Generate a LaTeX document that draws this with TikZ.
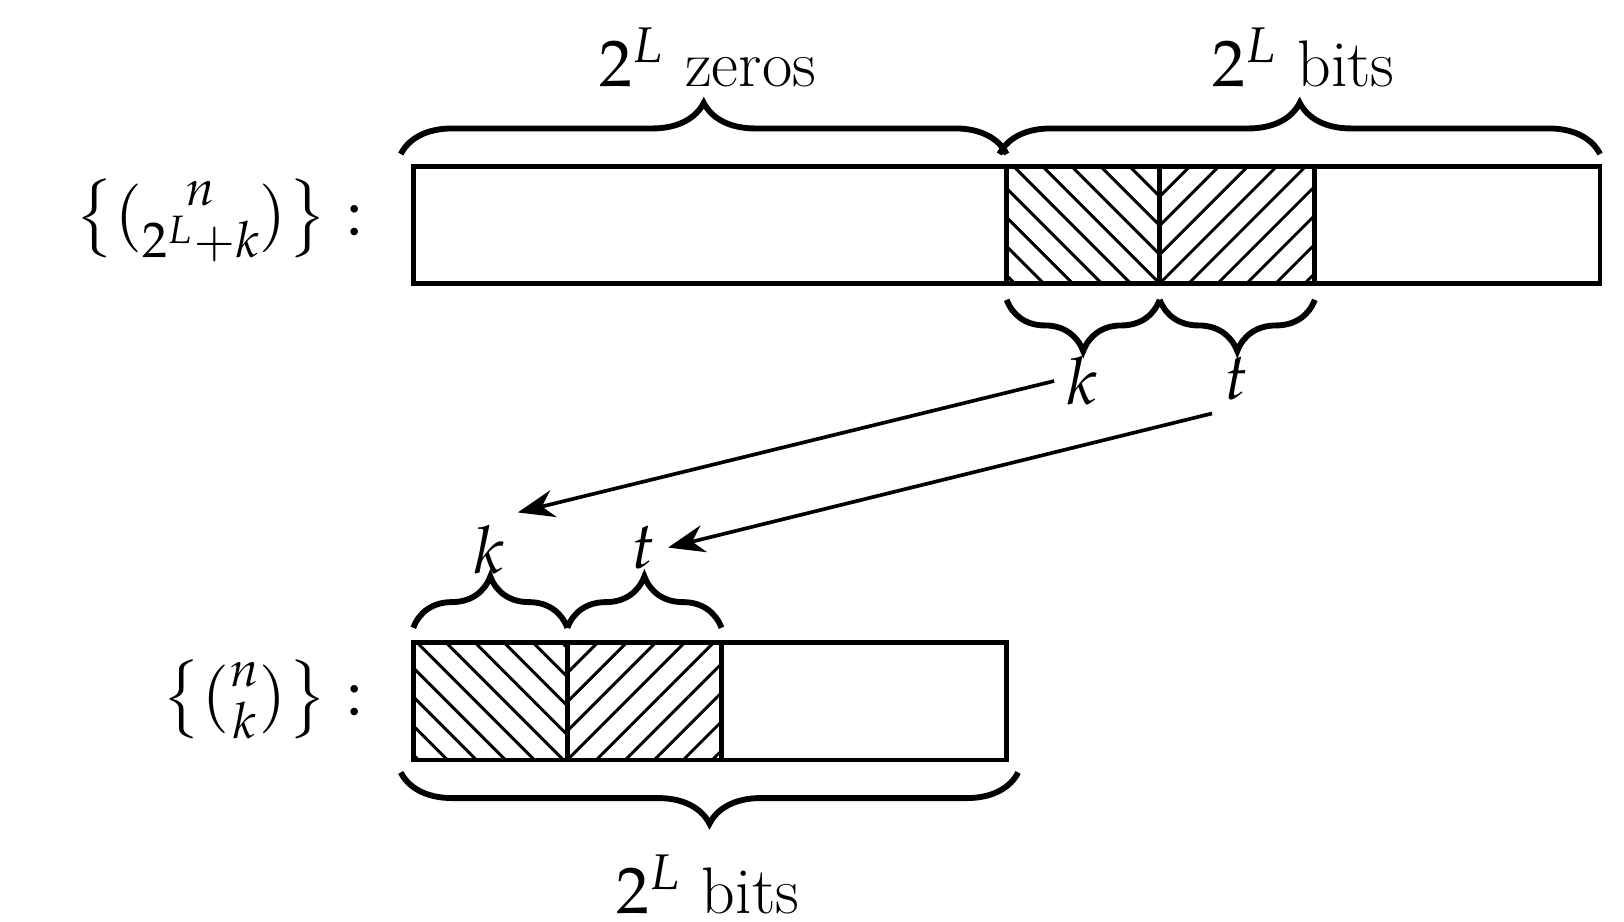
\documentclass[tikz,border=0pt]{standalone}
\usepackage{amsmath}
\usepackage{mathpazo}
\usetikzlibrary{decorations.pathreplacing,patterns.meta,arrows.meta}
\tikzset{
  br/.style={decorate,decoration={brace,amplitude=14pt},line width=1.6pt},
  brm/.style={decorate,decoration={brace,mirror,amplitude=14pt},line width=1.6pt},
  hl/.style={pattern={Lines[angle=-45,distance=5.6pt,line width=0.8pt]}},
  hr/.style={pattern={Lines[angle=45,distance=5.6pt,line width=0.8pt]}},
  lbl/.style={font=\fontsize{18}{20}\selectfont}
}
\begin{document}
\begin{tikzpicture}[x=0.01cm,y=-0.01cm]
\useasboundingbox (0,0) rectangle (1560,885);
% top bar
\draw[line width=1.3pt] (397,160) rectangle (1537,272);
\path[hl] (967,160) rectangle (1114,272);
\path[hr] (1114,160) rectangle (1263,272);
\draw[line width=1.3pt] (967,160) -- (967,272) (1114,160) -- (1114,272) (1263,160) -- (1263,272);
\draw[br] (385,148) -- (967,148);
\draw[br] (960,148) -- (1537,148);
\node[lbl] (zeros) at (680,55) {$2^L$ zeros};
\node[lbl] (bitsa) at (1252,55) {$2^L$ bits};
\draw[brm] (967,288) -- (1114,288);
\draw[brm] (1114,288) -- (1263,288);
\node[lbl] (ka) at (1040,366) {$k$};
\node[lbl] (ta) at (1188,364) {$t$};
\node[lbl,anchor=east] (seta) at (362,212) {$\left\{\binom{n}{2^L+k}\right\}:$};
% bottom bar
\draw[line width=1.3pt] (397,617) rectangle (967,730);
\path[hl] (397,617) rectangle (545,730);
\path[hr] (545,617) rectangle (693,730);
\draw[line width=1.3pt] (545,617) -- (545,730) (693,617) -- (693,730);
\draw[br] (397,603) -- (545,603);
\draw[br] (545,603) -- (693,603);
\node[lbl] (kb) at (470,528) {$k$};
\node[lbl] (tb) at (618,526) {$t$};
\draw[brm] (385,742) -- (978,742);
\node[lbl] (bitsb) at (680,850) {$2^L$ bits};
\node[lbl,anchor=east] (setb) at (362,672) {$\left\{\binom{n}{k}\right\}:$};
% arrows
\draw[-{Stealth[length=10pt]},line width=1pt] (ka.west) -- (kb.north east);
\draw[-{Stealth[length=10pt]},line width=1pt] (ta.south west) -- (tb.east);
\end{tikzpicture}
\end{document}
